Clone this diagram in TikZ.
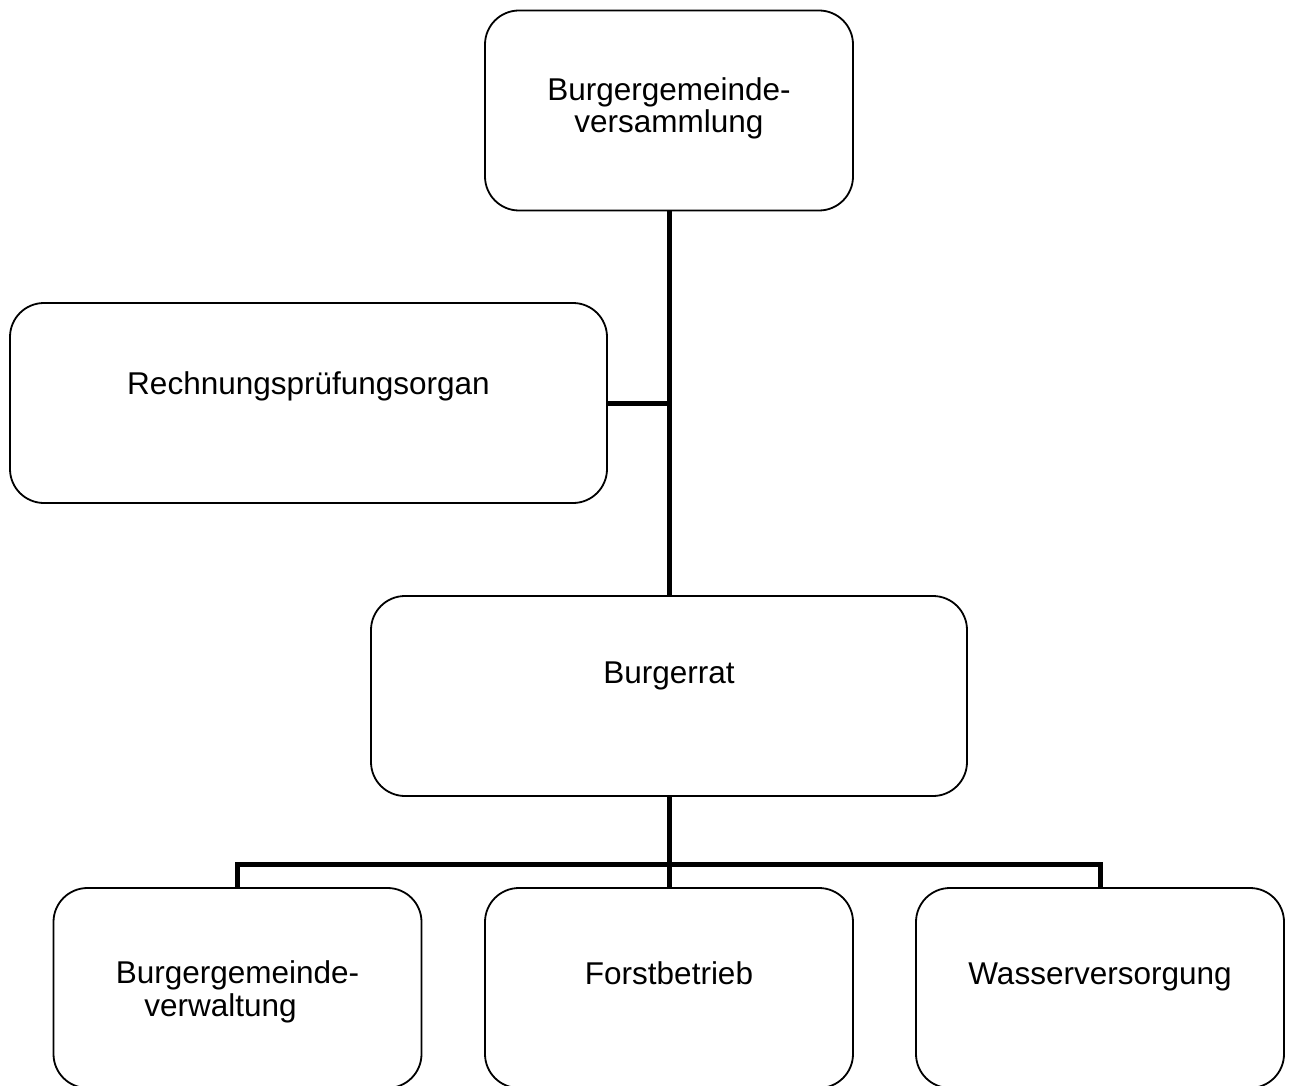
\documentclass[tikz,border=0pt]{standalone}
\usepackage{fontspec}
\setmainfont{Liberation Sans}
\begin{document}
\begin{tikzpicture}[x=1pt,y=-1pt,
  orgbox/.style={draw=black,line width=1.8pt,rounded corners=34pt,minimum width=#1,minimum height=200pt,inner sep=0pt},
  orgbox/.default=368pt,
  lbl/.style={anchor=base,inner sep=0pt,align=center,font=\fontsize{31.5}{32.5}\selectfont},
  conn/.style={line width=5pt}]
\useasboundingbox (0,0) rectangle (1293,1086);
\clip (0,0) rectangle (1293,1086);
\fill[white] (0,0) rectangle (1293,1086);
% boxes
\node[orgbox] (bgv) at (669,110.5) {};
\node[orgbox=597pt] (rpo) at (308.5,403) {};
\node[orgbox=596pt] (br) at (669,696) {};
\node[orgbox] (verw) at (237.5,988) {};
\node[orgbox] (forst) at (669,988) {};
\node[orgbox] (wasser) at (1100,988) {};
% labels
\node[lbl] (tbgv) at ([yshift=-123pt]bgv.north) {Burgergemeinde-\\versammlung};
\node[lbl] (trpo) at ([yshift=-92pt]rpo.north) {Rechnungsprüfungsorgan};
\node[lbl] (tbr) at ([yshift=-88pt]br.north) {Burgerrat};
\node[lbl] (tverw) at ([yshift=-129pt]verw.north) {Burgergemeinde-\\\hspace*{-34pt}verwaltung};
\node[lbl] (tforst) at ([yshift=-97pt]forst.north) {Forstbetrieb};
\node[lbl] (twasser) at ([yshift=-97pt]wasser.north) {Wasserversorgung};
% connectors
\coordinate (j1) at (bgv.south |- rpo.east);
\coordinate (j2) at (669,864);
\draw[conn] (bgv.south) -- (br.north);
\draw[conn] (rpo.east) -- (j1);
\draw[conn] (br.south) -- (forst.north);
\draw[conn] (verw.north) -- (verw.north |- j2) -- (wasser.north |- j2) -- (wasser.north);
\end{tikzpicture}
\end{document}
